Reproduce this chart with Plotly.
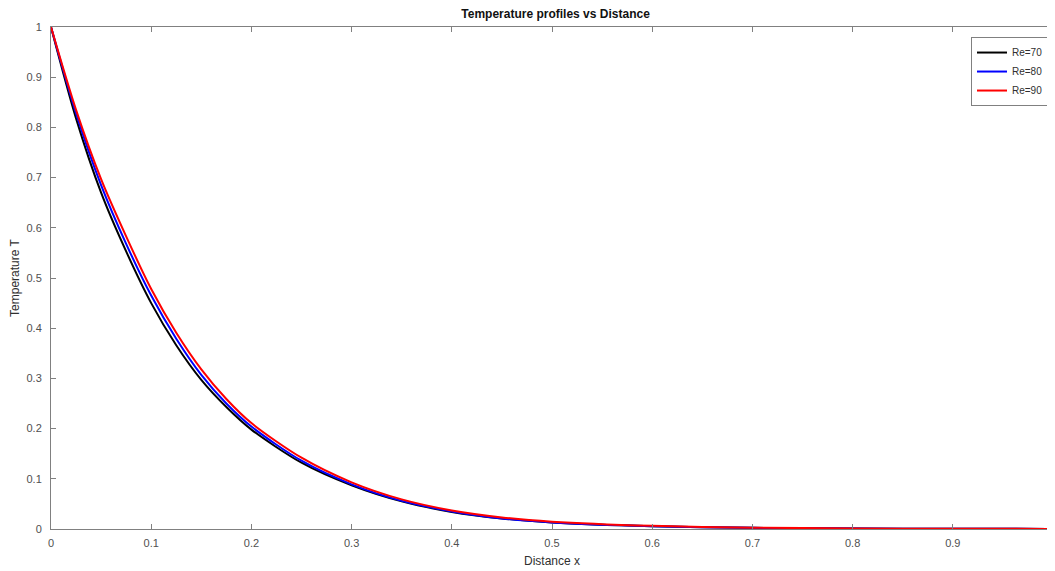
import plotly.graph_objects as go

x = [0, 0.025, 0.05, 0.075, 0.1, 0.125, 0.15, 0.175, 0.2, 0.25, 0.3, 0.35, 0.4, 0.45, 0.5, 0.6, 0.7, 0.8, 0.9, 1.0]
T_re70 = [1, 0.818, 0.67, 0.553, 0.45, 0.366, 0.297, 0.243, 0.198, 0.132, 0.087, 0.055, 0.034, 0.021, 0.013, 0.0055, 0.0023, 0.001, 0.0004, 0.0002]
T_re80 = [1, 0.828, 0.685, 0.568, 0.465, 0.379, 0.307, 0.25, 0.204, 0.136, 0.089, 0.056, 0.035, 0.021, 0.013, 0.0055, 0.0023, 0.001, 0.0004, 0.0002]
T_re90 = [1, 0.835, 0.697, 0.583, 0.478, 0.391, 0.318, 0.259, 0.211, 0.142, 0.093, 0.059, 0.037, 0.023, 0.0145, 0.0063, 0.0027, 0.0011, 0.0005, 0.0002]

series = [("Re=70", T_re70, "#000000"), ("Re=80", T_re80, "#0000ff"), ("Re=90", T_re90, "#ff0000")]

fig = go.Figure()
for name, y, c in series:
    fig.add_trace(go.Scatter(x=x, y=y, mode="lines", name=name,
                             line=dict(color=c, width=2, shape="spline", smoothing=0.8)))

axis_common = dict(showgrid=False, zeroline=False, showline=True, linecolor="#808080", linewidth=1,
                   mirror="ticks", ticks="inside", ticklen=5, tickcolor="#808080",
                   tickfont=dict(size=11, color="#505050"))

ticks = [0, 0.1, 0.2, 0.3, 0.4, 0.5, 0.6, 0.7, 0.8, 0.9, 1]
tick_labels = ["0", "0.1", "0.2", "0.3", "0.4", "0.5", "0.6", "0.7", "0.8", "0.9", "1"]

fig.update_layout(
    width=1047, height=563,
    paper_bgcolor="white", plot_bgcolor="white",
    font=dict(family="Liberation Sans, Arial, sans-serif", color="#262626"),
    margin=dict(l=43, r=2, t=19, b=42),
    title=dict(text="<b>Temperature profiles vs Distance</b>", x=0.523, xanchor="center",
               y=0.989, yanchor="middle", font=dict(size=12, color="#111111")),
    xaxis=dict(range=[0, 1], tickvals=ticks, ticktext=tick_labels, ticklabelstandoff=4,
               title=dict(text="Distance x", font=dict(size=12, color="#303030"), standoff=8),
               **axis_common),
    yaxis=dict(range=[0, 1], tickvals=ticks, ticktext=tick_labels, ticklabelstandoff=6,
               title=dict(text="Temperature T", font=dict(size=12, color="#303030"), standoff=6),
               **axis_common),
    legend=dict(x=0.996, y=0.98, xanchor="right", yanchor="top", bgcolor="white",
                bordercolor="#808080", borderwidth=1, font=dict(size=10, color="#303030"),
                tracegroupgap=0, itemwidth=30),
    showlegend=True,
)

fig.write_html("out.html")
